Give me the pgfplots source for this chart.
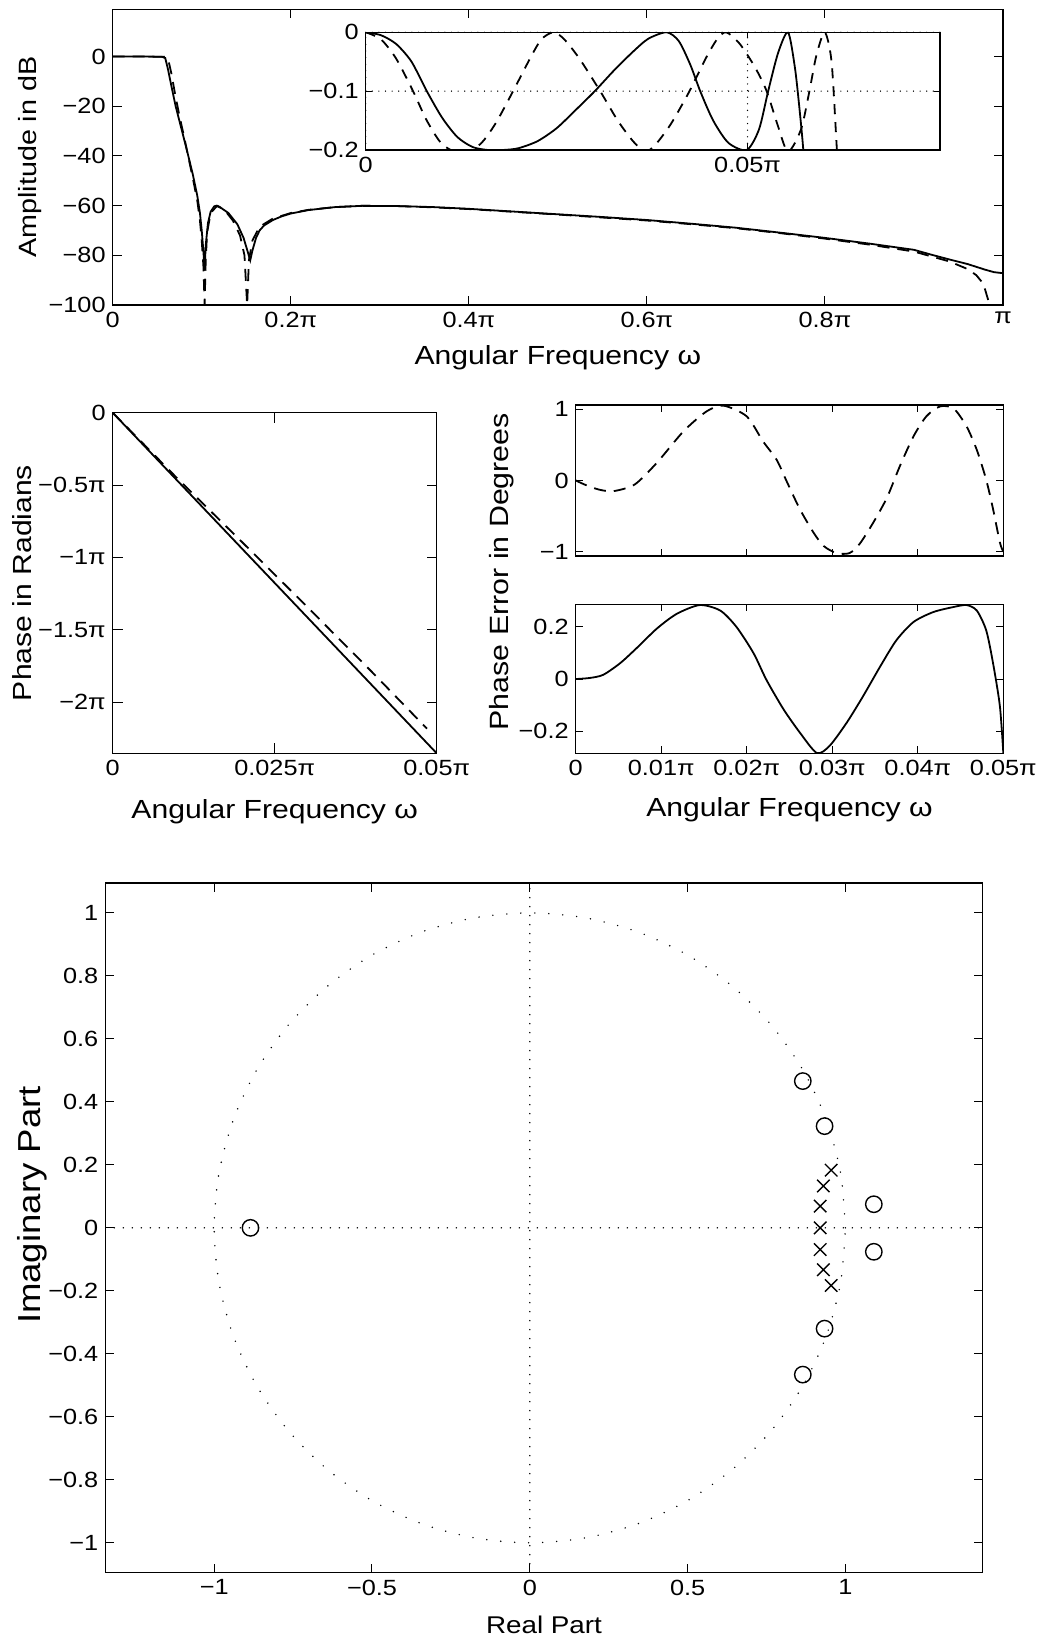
\documentclass[border=0pt]{standalone}
\usepackage{fontspec}
\setmainfont{Liberation Sans}[FakeStretch=1.15]
\usepackage{pgfplots}
\pgfplotsset{compat=1.18}
\newcommand{\ticksize}{\fontsize{11}{13}\selectfont}
\newcommand{\labsize}{\fontsize{13.1}{15}\selectfont}
\pgfplotsset{
  every axis/.append style={
    scale only axis, anchor=south west,
    tick align=inside,
    scaled x ticks=false, scaled y ticks=false,
    axis line style={line width=0.6pt},
    every tick/.style={black, line width=0.5pt},
    tick label style={font=\ticksize},
    label style={font=\labsize},
    xlabel style={at={(axis description cs:0.5,0)}, anchor=base},
    axis background/.style={fill=white},
  },
  sol/.style={black, line width=0.9pt},
  dsh/.style={black, line width=0.9pt, dash pattern=on 6pt off 4pt},
  dots/.style={black, line width=0.8pt, line cap=round, dash pattern=on 0pt off 4.5pt},
}
\begin{document}
\begin{tikzpicture}
\path[use as bounding box] (0,0) rectangle (519.5pt,819.5pt);

% ---------------- top: amplitude ----------------
\begin{axis}[
  at={(56.35pt,667pt)}, width=445.15pt, height=147.85pt,
  xmin=0, xmax=1, ymin=-100, ymax=19,
  major tick length=4.5pt,
  xtick={0,0.2,0.4,0.6,0.8,1}, xticklabels={0,0.2π,0.4π,0.6π,0.8π,π},
  ytick={-100,-80,-60,-40,-20,0}, yticklabels={−100,−80,−60,−40,−20,0},
  xlabel={Angular Frequency ω}, ylabel={Amplitude in dB},
  xlabel style={yshift=-30pt},
  ylabel style={font=\fontsize{12.5}{15}\selectfont, at={(axis description cs:-0.0854,0.5)}, anchor=base},
]
\addplot[sol] coordinates {
(0,0) (0.03,0) (0.055,-0.1) (0.059,-0.6) (0.062,-5) (0.066,-12) (0.0707,-20)
(0.075,-26) (0.08,-33) (0.0849,-40) (0.09,-47.5) (0.095,-56) (0.098,-63)
(0.1,-70) (0.102,-79) (0.1032,-86) (0.1045,-76) (0.107,-67) (0.11,-62.5)
(0.114,-60.3) (0.117,-60) (0.12,-60.5) (0.13,-63) (0.14,-67.5) (0.147,-73)
(0.152,-79) (0.1545,-82) (0.157,-78) (0.161,-73) (0.165,-70) (0.17,-68)
(0.18,-65.8) (0.19,-64.3) (0.2,-63.2) (0.22,-61.8) (0.25,-60.6) (0.28,-60.1)
(0.32,-60.2) (0.36,-60.6) (0.4,-61.3) (0.45,-62.4) (0.5,-63.5) (0.55,-64.6)
(0.6,-65.8) (0.65,-67.3) (0.7,-68.9) (0.75,-70.9) (0.8,-73) (0.85,-75.3)
(0.9,-77.8) (0.92,-79.8) (0.94,-81.7) (0.96,-83.5) (0.98,-85.8) (0.99,-86.8) (1,-87.2)
};
\addplot[dsh] coordinates {
(0,0) (0.03,0) (0.058,-0.1) (0.062,-0.6) (0.066,-7) (0.07,-15) (0.075,-24)
(0.08,-32) (0.085,-40.5) (0.09,-49) (0.095,-58) (0.098,-66) (0.1,-74)
(0.102,-85) (0.1032,-100) (0.1045,-82) (0.106,-71) (0.11,-63) (0.117,-60.2)
(0.125,-61.5) (0.135,-66) (0.143,-72) (0.148,-80) (0.151,-100) (0.153,-82)
(0.157,-74) (0.165,-68.5) (0.18,-65.2) (0.2,-63) (0.22,-61.7) (0.25,-60.6)
(0.28,-60.1) (0.32,-60.2) (0.36,-60.7) (0.4,-61.4) (0.45,-62.5) (0.5,-63.6)
(0.55,-64.8) (0.6,-66) (0.65,-67.5) (0.7,-69.1) (0.75,-71.1) (0.8,-73.3)
(0.85,-75.7) (0.9,-78.5) (0.92,-80.5) (0.94,-82.5) (0.96,-85.5) (0.97,-88)
(0.978,-91.5) (0.985,-100)
};
\end{axis}

% ---------------- inset: passband ----------------
\begin{axis}[
  at={(182.85pt,744.5pt)}, width=287.15pt, height=58.85pt,
  xmin=0, xmax=0.0752, ymin=-0.2, ymax=0,
  major tick length=3pt,
  xtick={0,0.05}, xticklabels={0,0.05π},
  ytick={-0.2,-0.1,0}, yticklabels={−0.2,−0.1,0},
  grid=major, major grid style={black, line width=0.7pt, line cap=round, dash pattern=on 0pt off 3.3pt},
]
\addplot[sol, smooth, tension=0.45] coordinates {
(0,0) (0.002,-0.005) (0.004,-0.02) (0.006,-0.05) (0.008,-0.1) (0.010,-0.145)
(0.012,-0.178) (0.014,-0.195) (0.016,-0.2) (0.018,-0.2) (0.020,-0.197)
(0.0225,-0.185) (0.025,-0.163) (0.0275,-0.132) (0.030,-0.1) (0.0325,-0.065)
(0.035,-0.033) (0.037,-0.011) (0.0394,0) (0.041,-0.015) (0.0425,-0.055)
(0.0438,-0.1) (0.0455,-0.15) (0.0475,-0.188) (0.0499,-0.2) (0.0515,-0.165)
(0.0527,-0.1) (0.054,-0.035) (0.0553,0) (0.0562,-0.06) (0.0568,-0.13)
(0.0573,-0.2) (0.0578,-0.3)
};
\addplot[dsh, dash pattern=on 5pt off 4pt, smooth, tension=0.45] coordinates {
(0,0) (0.002,-0.012) (0.004,-0.045) (0.0062,-0.1) (0.008,-0.15) (0.010,-0.19)
(0.0125,-0.206) (0.015,-0.19) (0.017,-0.155) (0.0193,-0.1) (0.0215,-0.045)
(0.023,-0.012) (0.0246,0) (0.026,-0.012) (0.028,-0.045) (0.0307,-0.1)
(0.033,-0.15) (0.035,-0.185) (0.0366,-0.203) (0.038,-0.19) (0.040,-0.155)
(0.0424,-0.1) (0.0445,-0.045) (0.046,-0.012) (0.0472,0) (0.049,-0.02)
(0.051,-0.06) (0.0525,-0.1) (0.054,-0.16) (0.0553,-0.203) (0.057,-0.165)
(0.0581,-0.1) (0.059,-0.04) (0.0601,0) (0.061,-0.05) (0.0617,-0.2) (0.0622,-0.3)
};
\end{axis}

% ---------------- middle left: phase ----------------
\begin{axis}[
  at={(56.35pt,442.85pt)}, width=162pt, height=170.3pt,
  xmin=0, xmax=0.05, ymin=-2.352, ymax=0,
  major tick length=5pt,
  xtick={0,0.025,0.05}, xticklabels={0,0.025π,0.05π},
  ytick={-2,-1.5,-1,-0.5,0}, yticklabels={−2π,−1.5π,−1π,−0.5π,0},
  xlabel={Angular Frequency ω}, ylabel={Phase in Radians},
  xlabel style={yshift=-32.5pt},
  ylabel style={at={(axis description cs:-0.25,0.5)}, anchor=base},
]
\addplot[sol] coordinates {(0,0) (0.05,-2.352)};
\addplot[dsh] coordinates {(0,0) (0.01,-0.455) (0.02,-0.895) (0.03,-1.34) (0.04,-1.79) (0.0485,-2.182)};
\end{axis}

% ---------------- middle right top: phase error (dashed) ----------------
\begin{axis}[
  at={(287.85pt,541.5pt)}, width=213.8pt, height=75.5pt,
  xmin=0, xmax=0.05, ymin=-1.06, ymax=1.06,
  major tick length=3.5pt,
  xtick={0,0.01,0.02,0.03,0.04,0.05}, xticklabels={},
  ytick={-1,0,1}, yticklabels={−1,0,1},
]
\addplot[dsh, smooth, tension=0.45] coordinates {
(0,0) (0.0013,-0.07) (0.0028,-0.13) (0.0044,-0.15) (0.0069,-0.056) (0.0095,0.25)
(0.0126,0.69) (0.0153,0.97) (0.0173,1.05) (0.02,0.9) (0.0219,0.55) (0.0235,0.29)
(0.0247,-0.02) (0.0262,-0.4) (0.0278,-0.73) (0.029,-0.92) (0.0305,-1.02)
(0.032,-1.02) (0.0332,-0.89) (0.0348,-0.59) (0.0364,-0.24) (0.0379,0.2)
(0.0395,0.62) (0.041,0.9) (0.0426,1.04) (0.0442,1.01) (0.0457,0.76)
(0.0469,0.43) (0.048,0.01) (0.0488,-0.4) (0.0496,-0.87) (0.05,-1.0)
};
\end{axis}

% ---------------- middle right bottom: phase error (solid) ----------------
\begin{axis}[
  at={(287.85pt,442.85pt)}, width=213.8pt, height=74.5pt,
  xmin=0, xmax=0.05, ymin=-0.285, ymax=0.287,
  major tick length=3.5pt,
  xtick={0,0.01,0.02,0.03,0.04,0.05}, xticklabels={0,0.01π,0.02π,0.03π,0.04π,0.05π},
  ytick={-0.2,0,0.2}, yticklabels={−0.2,0,0.2},
  xlabel={Angular Frequency ω},
  xlabel style={yshift=-31.7pt},
]
\addplot[sol, smooth, tension=0.45] coordinates {
(0,0) (0.0016,0.004) (0.0032,0.016) (0.0052,0.061) (0.0071,0.118) (0.0095,0.194)
(0.0118,0.25) (0.0145,0.284) (0.0169,0.263) (0.0188,0.2) (0.0208,0.099)
(0.0223,-0.003) (0.0243,-0.116) (0.0262,-0.205) (0.0282,-0.284) (0.0297,-0.256)
(0.0317,-0.167) (0.0336,-0.066) (0.0356,0.048) (0.0375,0.149) (0.0395,0.219)
(0.0418,0.257) (0.0441,0.276) (0.0457,0.284) (0.0469,0.263) (0.048,0.187)
(0.0488,0.061) (0.0496,-0.104) (0.05,-0.284)
};
\end{axis}
\node[font=\fontsize{13.2}{15}\selectfont, rotate=90, anchor=base] at (254pt,533.65pt) {Phase Error in Degrees};

% ---------------- bottom: pole-zero ----------------
\begin{axis}[
  at={(52.65pt,33.15pt)}, width=438.7pt, height=344.85pt,
  xmin=-1.345, xmax=1.435, ymin=-1.095, ymax=1.095,
  major tick length=4.5pt,
  xtick={-1,-0.5,0,0.5,1}, xticklabels={−1,−0.5,0,0.5,1},
  ytick={-1,-0.8,-0.6,-0.4,-0.2,0,0.2,0.4,0.6,0.8,1},
  yticklabels={−1,−0.8,−0.6,−0.4,−0.2,0,0.2,0.4,0.6,0.8,1},
  xlabel={Real Part}, ylabel={Imaginary Part},
  xlabel style={font=\fontsize{12.1}{14}\selectfont, yshift=-30.6pt},
  ylabel style={font=\fontsize{15.9}{18}\selectfont, at={(axis description cs:-0.0744,0.533)}, anchor=base},
]
\addplot[dots] coordinates {(-1.345,0) (1.435,0)};
\addplot[dots] coordinates {(0,-1.095) (0,1.095)};
\addplot[dots, dash pattern=on 0pt off 7pt, smooth] coordinates {
(1,0) (0.9848,0.1736) (0.9397,0.3420) (0.8660,0.5) (0.7660,0.6428) (0.6428,0.7660)
(0.5,0.8660) (0.3420,0.9397) (0.1736,0.9848) (0,1) (-0.1736,0.9848) (-0.3420,0.9397)
(-0.5,0.8660) (-0.6428,0.7660) (-0.7660,0.6428) (-0.8660,0.5) (-0.9397,0.3420)
(-0.9848,0.1736) (-1,0) (-0.9848,-0.1736) (-0.9397,-0.3420) (-0.8660,-0.5)
(-0.7660,-0.6428) (-0.6428,-0.7660) (-0.5,-0.8660) (-0.3420,-0.9397)
(-0.1736,-0.9848) (0,-1) (0.1736,-0.9848) (0.3420,-0.9397) (0.5,-0.8660)
(0.6428,-0.7660) (0.7660,-0.6428) (0.8660,-0.5) (0.9397,-0.3420)
(0.9848,-0.1736) (1,0)
};
\addplot[only marks, mark=o, mark size=4.1pt, mark options={black, line width=0.7pt}] coordinates {
(-0.885,0) (0.865,0.466) (0.865,-0.466) (0.934,0.323) (0.934,-0.320) (1.09,0.075) (1.09,-0.076)
};
\addplot[only marks, mark=x, mark size=4.4pt, mark options={black, line width=0.7pt}] coordinates {
(0.955,0.183) (0.930,0.133) (0.920,0.069) (0.920,0) (0.920,-0.069) (0.930,-0.133) (0.955,-0.183)
};
\end{axis}
\end{tikzpicture}
\end{document}
